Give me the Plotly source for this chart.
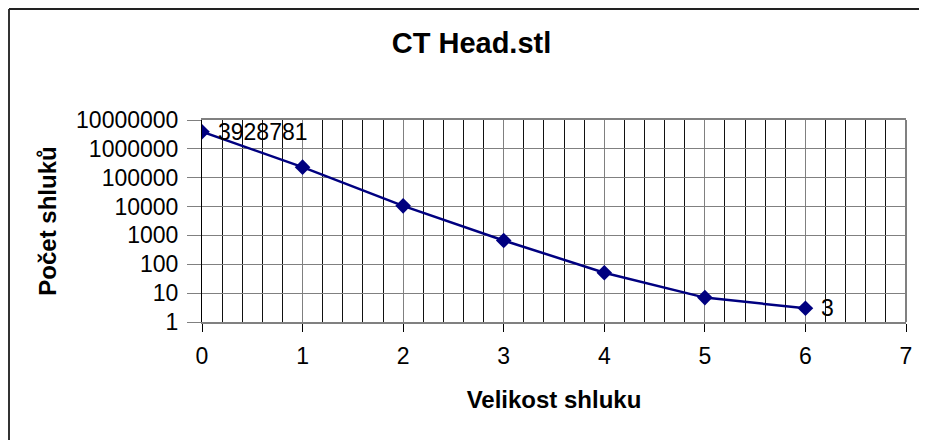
import math
import plotly.graph_objects as go

# cluster size vs. number of clusters
velikost = [0, 1, 2, 3, 4, 5, 6]
pocet = [3928781, 232000, 10600, 670, 51, 7, 3]

y_ticks = [1, 10, 100, 1000, 10000, 100000, 1000000, 10000000]
y_labels = [str(v) for v in y_ticks]
x_ticks = [0, 1, 2, 3, 4, 5, 6, 7]

navy = "#000080"
font = "Arial, Liberation Sans, sans-serif"

W, H = 927, 440
L, R, T, B = 194, 29, 112, 126

fig = go.Figure(go.Scatter(
    x=velikost,
    y=pocet,
    mode="lines+markers",
    line=dict(color=navy, width=2.5),
    marker=dict(symbol="diamond", size=12, color=navy),
    showlegend=False,
))

# data labels on first and last point
for i in (0, len(velikost) - 1):
    fig.add_annotation(
        x=velikost[i], y=math.log10(pocet[i]),
        text=str(pocet[i]), showarrow=False,
        xanchor="left", xshift=14,
        font=dict(family=font, size=23, color="black"),
    )

fig.update_layout(
    width=W, height=H,
    margin=dict(l=L, r=R, t=T, b=B),
    paper_bgcolor="white", plot_bgcolor="white",
    title=dict(text="<b>CT Head.stl</b>", x=0.5, xanchor="center",
               y=1 - 35 / H, yanchor="middle",
               font=dict(family=font, size=29, color="black")),
    font=dict(family=font, size=23, color="black"),
)

fig.update_xaxes(
    range=[0, 7], tickvals=x_ticks,
    ticks="outside", ticklen=8, tickcolor="black",
    ticklabelstandoff=4,
    showgrid=True, gridcolor="#808080", gridwidth=1,
    minor=dict(dtick=0.2, showgrid=True, gridcolor="#111111", gridwidth=1),
    showline=True, linecolor="#808080", linewidth=2, mirror=True,
    zeroline=False,
    title=dict(text="<b>Velikost shluku</b>", standoff=24,
               font=dict(family=font, size=24)),
    tickfont=dict(family=font, size=23),
)

fig.update_yaxes(
    type="log", range=[0, 7], tickvals=y_ticks, ticktext=y_labels,
    ticks="outside", ticklen=14, tickcolor="#808080",
    ticklabelstandoff=4,
    showgrid=True, gridcolor="#808080", gridwidth=1,
    showline=True, linecolor="black", linewidth=1,
    zeroline=False,
    title=dict(text="<b>Počet shluků</b>", standoff=12,
               font=dict(family=font, size=24)),
    tickfont=dict(family=font, size=23),
)

# right border of plot area (gray)
fig.add_shape(type="line", xref="paper", yref="paper",
              x0=1, x1=1, y0=0, y1=1, line=dict(color="#808080", width=2))

# outer chart border (only top and left visible in the crop)
pw = W - L - R
ph = H - T - B
bx = (1 - L) / pw
by = (H - B - 1) / ph
fig.add_shape(type="line", xref="paper", yref="paper",
              x0=bx, x1=bx, y0=-1, y1=by, line=dict(color="#333333", width=2))
fig.add_shape(type="line", xref="paper", yref="paper",
              x0=bx, x1=1.2, y0=by, y1=by, line=dict(color="#222222", width=2))

fig.write_html("out.html")
